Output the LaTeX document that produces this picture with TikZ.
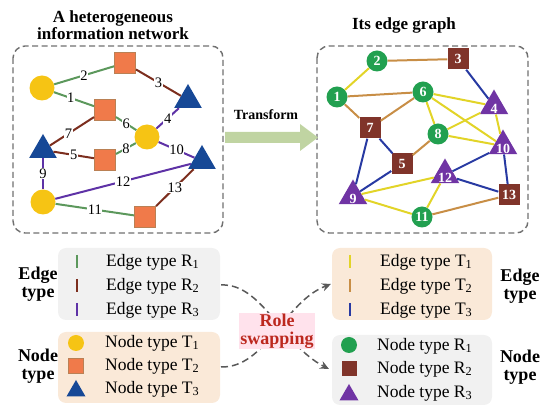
\documentclass[tikz,border=0pt]{standalone}
\usepackage{fontspec}
\setmainfont{Liberation Serif}
\usetikzlibrary{positioning,shapes.geometric,arrows.meta}

\definecolor{ryellow}{RGB}{246,196,20}
\definecolor{rorange}{RGB}{240,122,74}
\definecolor{rorangeln}{RGB}{186,128,84}
\definecolor{rblue}{RGB}{22,72,150}
\definecolor{rgreen}{RGB}{92,152,92}
\definecolor{rbrown}{RGB}{124,46,30}
\definecolor{rpurple}{RGB}{94,50,166}
\definecolor{egreen}{RGB}{34,160,80}
\definecolor{ebrown}{RGB}{128,52,42}
\definecolor{epurple}{RGB}{112,52,164}
\definecolor{tyellow}{RGB}{226,212,40}
\definecolor{ttan}{RGB}{200,142,70}
\definecolor{tblue}{RGB}{40,58,162}
\definecolor{panelln}{RGB}{112,112,112}
\definecolor{boxgray}{RGB}{241,241,241}
\definecolor{boxpeach}{RGB}{250,233,216}
\definecolor{arrowgreen}{RGB}{192,212,162}
\definecolor{rolered}{RGB}{188,40,30}
\definecolor{rolepink}{RGB}{255,226,236}

\begin{document}
\begin{tikzpicture}[x=1pt, y=-1pt,
    tcirc/.style={circle, fill=ryellow, minimum size=25pt, inner sep=0pt},
    tsq/.style={rectangle, fill=rorange, draw=rorangeln, line width=1pt, minimum size=21pt, inner sep=0pt},
    ttri/.style={regular polygon, regular polygon sides=3, fill=rblue, minimum size=32pt, inner sep=0pt},
    ecirc/.style={circle, fill=egreen, minimum size=21pt, inner sep=0pt, text=white, font=\bfseries\fontsize{14}{14}\selectfont},
    esq/.style={rectangle, fill=ebrown, minimum size=21pt, inner sep=0pt, text=white, font=\bfseries\fontsize{14}{14}\selectfont},
    etri/.style={regular polygon, regular polygon sides=3, fill=epurple, minimum size=33pt, inner sep=0pt},
    trilab/.style={label={[text=white, inner sep=0pt, yshift=-3pt, font=\bfseries\fontsize{14}{14}\selectfont]center:#1}},
    elab/.style={fill=white, text=black, inner sep=0.6pt, font=\fontsize{14.5}{14.5}\selectfont},
    panel/.style={draw=panelln, line width=1.4pt, dash pattern=on 6pt off 3.5pt, rounded corners=12pt},
    lbox/.style={rounded corners=8pt, inner sep=0pt},
    ltext/.style={anchor=west, inner sep=0pt, font=\fontsize{17.5}{18}\selectfont},
    title/.style={align=center, font=\bfseries\fontsize{17}{17}\selectfont},
    swap/.style={-{Stealth[length=9pt,width=8pt]}, draw=black!65, line width=1.5pt, dash pattern=on 7pt off 4pt}
]
\useasboundingbox (0,0) rectangle (550,419);

% Titles
\node[title] (ttlL) at (113,25) {A heterogeneous\\information network};
\node[title] (ttlR) at (404,25) {Its edge graph};

% Panels
\draw[panel] (13,46) rectangle (223,233);
\draw[panel] (317,46) rectangle (528,233);

% Heterogeneous network
\node[tcirc] (c1) at (42,88) {};
\node[tsq]   (s1) at (125,63) {};
\node[ttri]  (t1) at (188,100) {};
\node[tsq]   (s2) at (105,110) {};
\node[tcirc] (c2) at (147,137) {};
\node[ttri]  (t2) at (43,150) {};
\node[tsq]   (s3) at (105,160) {};
\node[ttri]  (t3) at (202,161) {};
\node[tcirc] (c3) at (43,202) {};
\node[tsq]   (s4) at (145,217) {};

\begin{scope}[line width=2pt]
\draw[rgreen]  (c1) -- node[elab, pos=0.42] {1} (s2);
\draw[rgreen]  (c1) -- node[elab] {2} (s1);
\draw[rbrown]  (s1) -- node[elab] {3} (t1);
\draw[rpurple] (t1) -- node[elab] {4} (c2);
\draw[rbrown]  (t2) -- node[elab] {5} (s3);
\draw[rgreen]  (s2) -- node[elab] {6} (c2);
\draw[rbrown]  (t2) -- node[elab, pos=0.42] {7} (s2);
\draw[rgreen]  (s3) -- node[elab] {8} (c2);
\draw[rpurple] (t2) -- node[elab] {9} (c3);
\draw[rpurple] (c2) -- node[elab] {10} (t3);
\draw[rgreen]  (c3) -- node[elab] {11} (s4);
\draw[rpurple] (c3) -- node[elab] {12} (t3);
\draw[rbrown]  (s4) -- node[elab] {13} (t3);
\end{scope}

% Transform arrow
\fill[arrowgreen] (225,132) -- (300,132) -- (300,124) -- (318,137.5)
    -- (300,151) -- (300,143) -- (225,143) -- cycle;
\node[font=\bfseries\fontsize{14}{14}\selectfont] (trans) at (266,115) {Transform};

% Edge graph
\node[ecirc] (e1)  at (337,97) {1};
\node[ecirc] (e2)  at (377,61) {2};
\node[esq]   (e3)  at (458,59) {3};
\node[etri, trilab=4]  (e4)  at (494,106) {};
\node[esq]   (e5)  at (402,164) {5};
\node[ecirc] (e6)  at (423,92) {6};
\node[esq]   (e7)  at (370,128) {7};
\node[ecirc] (e8)  at (438,134) {8};
\node[etri, trilab=9]  (e9)  at (353,196) {};
\node[etri, trilab=10] (e10) at (503,146) {};
\node[ecirc] (e11) at (422,217) {11};
\node[etri, trilab=12] (e12) at (445,175) {};
\node[esq]   (e13) at (509,195) {13};

\begin{scope}[line width=2pt]
\foreach \a/\b in {e1/e2, e4/e6, e4/e8, e4/e10, e6/e8, e6/e10, e8/e10, e9/e12, e9/e11, e11/e12}
    \draw[tyellow] (\a) -- (\b);
\foreach \a/\b in {e2/e3, e1/e6, e1/e7, e6/e7, e5/e8, e11/e13}
    \draw[ttan] (\a) -- (\b);
\foreach \a/\b in {e3/e4, e7/e5, e7/e9, e5/e9, e10/e12, e10/e13, e12/e13}
    \draw[tblue] (\a) -- (\b);
\end{scope}

% Legend boxes
\node[lbox, fill=boxgray,  minimum width=162pt, minimum height=72pt] (edgeL) at (139,284) {};
\node[lbox, fill=boxpeach, minimum width=162pt, minimum height=71pt] (nodeL) at (139,367.5) {};
\node[lbox, fill=boxpeach, minimum width=160pt, minimum height=72pt] (edgeR) at (412,284) {};
\node[lbox, fill=boxgray,  minimum width=160pt, minimum height=70pt] (nodeR) at (412,370) {};

% Left legend
\draw[rgreen,  line width=2pt] (77,255) -- (77,268);
\draw[rbrown,  line width=2pt] (77,279) -- (77,292);
\draw[rpurple, line width=2pt] (77,303) -- (77,316);
\node[ltext] (lr1) at (106,262) {Edge type R\textsubscript{1}};
\node[ltext] (lr2) at (106,286) {Edge type R\textsubscript{2}};
\node[ltext] (lr3) at (106,310) {Edge type R\textsubscript{3}};
\node[tcirc, minimum size=16pt] (lc) at (76,343) {};
\node[tsq, minimum size=15pt] (ls) at (76,366) {};
\node[ttri, minimum size=22pt] (lt) at (76,391) {};
\node[ltext] (lt1) at (105,343) {Node type T\textsubscript{1}};
\node[ltext] (lt2) at (105,366) {Node type T\textsubscript{2}};
\node[ltext] (lt3) at (105,389) {Node type T\textsubscript{3}};
\node[title, font=\bfseries\fontsize{18}{18}\selectfont] (edgeLlab) at (38,284) {Edge\\type};
\node[title, font=\bfseries\fontsize{18}{18}\selectfont] (nodeLlab) at (38,366) {Node\\type};

% Right legend
\draw[tyellow, line width=2pt] (350,255) -- (350,268);
\draw[ttan,    line width=2pt] (350,279) -- (350,292);
\draw[tblue,   line width=2pt] (350,303) -- (350,316);
\node[ltext] (rt1) at (380,262) {Edge type T\textsubscript{1}};
\node[ltext] (rt2) at (380,286) {Edge type T\textsubscript{2}};
\node[ltext] (rt3) at (380,310) {Edge type T\textsubscript{3}};
\node[ecirc, minimum size=16pt] (rc) at (349,345) {};
\node[esq, minimum size=15pt] (rs) at (349,369) {};
\node[etri, minimum size=22pt] (rtr) at (349,395) {};
\node[ltext] (rr1) at (377,346) {Node type R\textsubscript{1}};
\node[ltext] (rr2) at (377,369) {Node type R\textsubscript{2}};
\node[ltext] (rr3) at (377,393) {Node type R\textsubscript{3}};
\node[title, font=\bfseries\fontsize{18}{18}\selectfont] (edgeRlab) at (520,286) {Edge\\type};
\node[title, font=\bfseries\fontsize{18}{18}\selectfont] (nodeRlab) at (520,367) {Node\\type};

% Role swapping
\coordinate (fromE) at (221,285);
\coordinate (fromN) at (221,367);
\coordinate (toN) at (329,369);
\coordinate (toE) at (331,284);
\draw[swap] (fromE) .. controls (262,283) and (282,345) .. (toN);
\draw[swap] (fromN) .. controls (266,368) and (284,302) .. (toE);
\node[title, fill=rolepink, text=rolered, inner sep=1pt, font=\bfseries\fontsize{18}{18}\selectfont] (role) at (277,331) {Role\\swapping};
\end{tikzpicture}
\end{document}
